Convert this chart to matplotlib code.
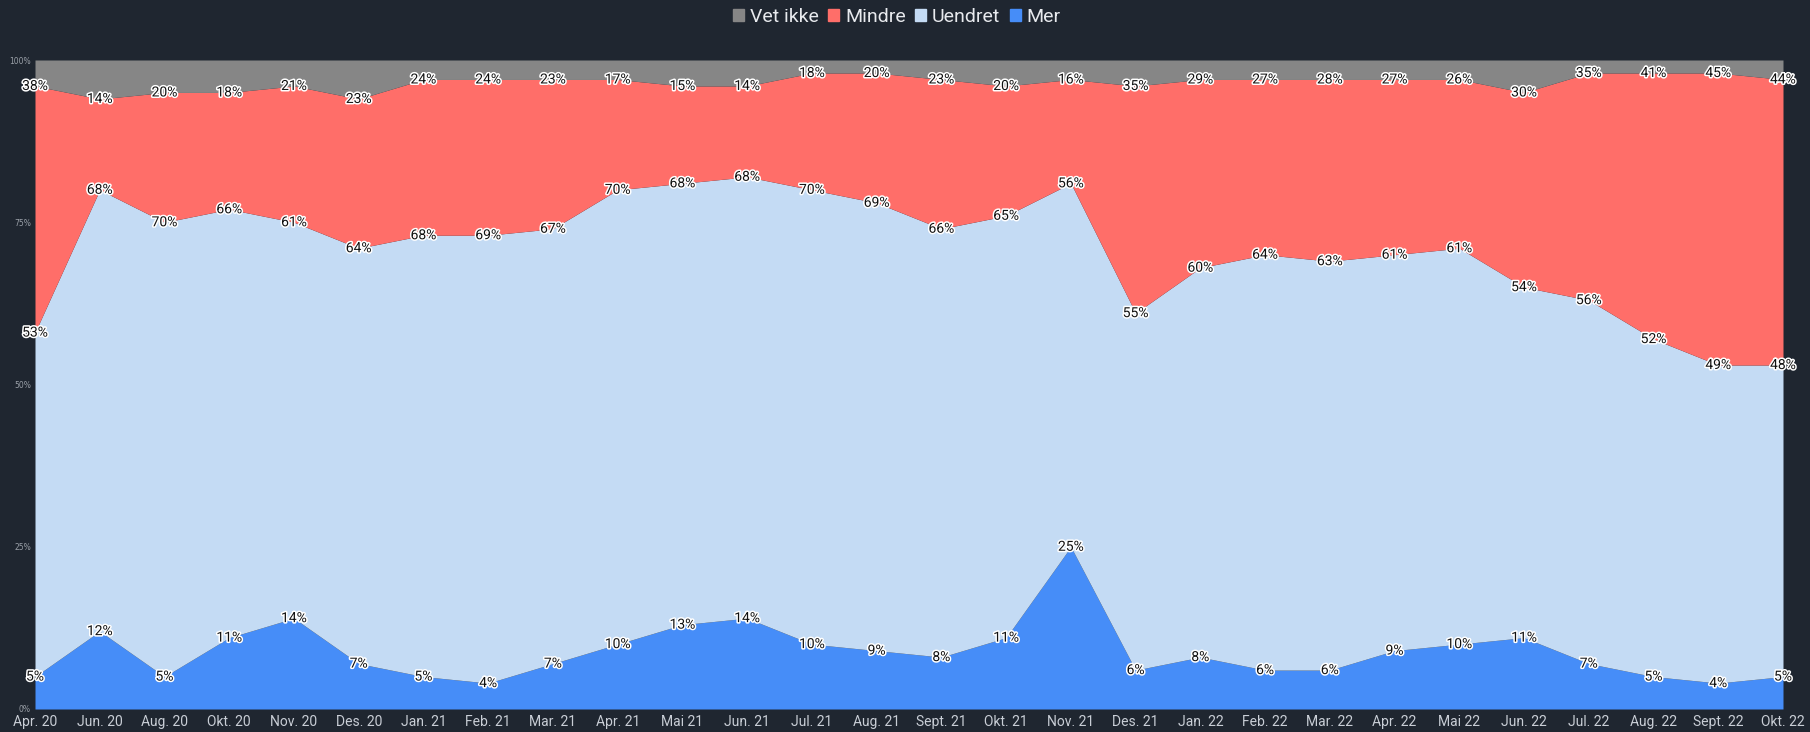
import numpy as np
import matplotlib
matplotlib.use("Agg")
import matplotlib.pyplot as plt
import matplotlib.patheffects as pe

# ---- Data ----
months = ["Apr. 20", "Jun. 20", "Aug. 20", "Okt. 20", "Nov. 20", "Des. 20",
          "Jan. 21", "Feb. 21", "Mar. 21", "Apr. 21", "Mai 21", "Jun. 21",
          "Jul. 21", "Aug. 21", "Sept. 21", "Okt. 21", "Nov. 21", "Des. 21",
          "Jan. 22", "Feb. 22", "Mar. 22", "Apr. 22", "Mai 22", "Jun. 22",
          "Jul. 22", "Aug. 22", "Sept. 22", "Okt. 22"]

mer      = [5, 12, 5, 11, 14, 7, 5, 4, 7, 10, 13, 14, 10, 9, 8, 11, 25, 6,
            8, 6, 6, 9, 10, 11, 7, 5, 4, 5]
uendret  = [53, 68, 70, 66, 61, 64, 68, 69, 67, 70, 68, 68, 70, 69, 66, 65, 56, 55,
            60, 64, 63, 61, 61, 54, 56, 52, 49, 48]
mindre   = [38, 14, 20, 18, 21, 23, 24, 24, 23, 17, 15, 14, 18, 20, 23, 20, 16, 35,
            29, 27, 28, 27, 26, 30, 35, 41, 45, 44]
vet_ikke = [4, 6, 5, 5, 4, 6, 3, 3, 3, 3, 4, 4, 2, 2, 3, 4, 3, 4,
            3, 3, 3, 3, 3, 5, 2, 2, 2, 3]

series_names  = ["Mer", "Uendret", "Mindre", "Vet ikke"]
series_colors = ["#468df8", "#c4dbf4", "#ff6e69", "#868686"]

BG = "#1f2630"

# ---- Plot ----
fig = plt.figure(figsize=(18.10, 7.32), dpi=100, facecolor=BG)
ax = fig.add_axes([35 / 1810, 23 / 732, 1748 / 1810, 649 / 732])
ax.set_facecolor(BG)

x = np.arange(len(months))
data = np.array([mer, uendret, mindre, vet_ikke], dtype=float)
share = data / data.sum(axis=0) * 100
cum = np.cumsum(share, axis=0)

base = np.zeros(len(months))
for i in range(4):
    ax.fill_between(x, base, cum[i], color=series_colors[i], lw=0)
    base = cum[i]

# value labels on the upper edge of the first three series
outline = [pe.withStroke(linewidth=2.2, foreground="white")]
for i in range(3):
    for xi, top, v in zip(x, cum[i], data[i]):
        ax.text(xi, top, f"{int(v)}%", ha="center", va="center",
                fontsize=10, family="Roboto", color="#111111",
                path_effects=outline, clip_on=False, zorder=5)

ax.set_xlim(0, len(months) - 1)
ax.set_ylim(0, 100)
ax.set_xticks(x)
ax.set_xticklabels(months, family="Roboto", fontsize=10, color="#c9ced6")
ax.set_yticks([0, 25, 50, 75, 100])
ax.set_yticklabels(["0%", "25%", "50%", "75%", "100%"], fontsize=5.5, color="#9aa0a8")
ax.tick_params(axis="both", length=0)
ax.tick_params(axis="x", pad=4)
ax.tick_params(axis="y", pad=3)
for s in ax.spines.values():
    s.set_visible(False)

# legend (top order: Vet ikke, Mindre, Uendret, Mer)
handles = [plt.Rectangle((0, 0), 1, 1, color=series_colors[i]) for i in [3, 2, 1, 0]]
labels = [series_names[i] for i in [3, 2, 1, 0]]
leg = fig.legend(handles, labels, loc="center", bbox_to_anchor=(897 / 1810, 1 - 17 / 732),
                 ncol=4, frameon=False, handlelength=0.55, handleheight=0.55,
                 handletextpad=0.3, columnspacing=0.5,
                 prop={"family": "Roboto", "size": 14})
for t in leg.get_texts():
    t.set_color("#e8eaee")

fig.savefig("out.png", dpi=100, facecolor=BG)
